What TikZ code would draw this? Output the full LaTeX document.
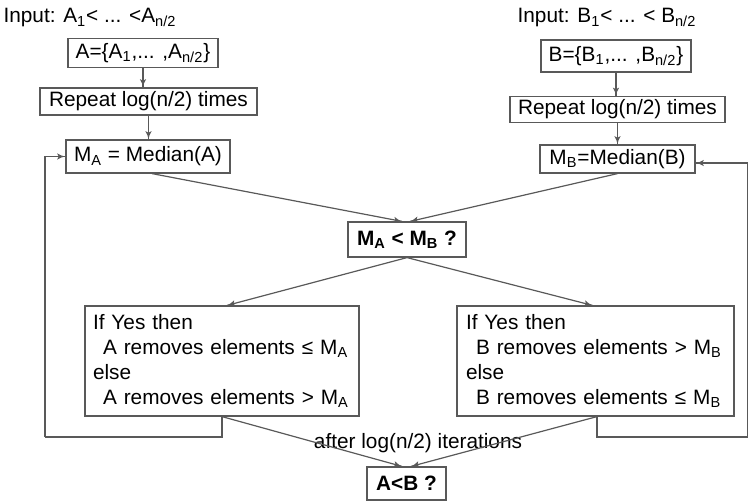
\documentclass[tikz,border=0pt]{standalone}
\usepackage{fontspec}
\setmainfont{Liberation Sans}
\usetikzlibrary{arrows}
\usetikzlibrary{decorations.markings}
\tikzset{tip/.style = {decoration={markings,
                                   mark=at position 1 with {\arrow[scale=0.9]{latex'}}},
                       postaction={decorate}}}
\tikzset{box/.style = {draw=lgray, line width=0.6pt, inner sep=0}}
\tikzset{wire/.style = {lgray, line width=0.6pt}}
\definecolor{lgray}{rgb}{0.35, 0.35, 0.35}
\newcommand{\lo}[1]{\textsubscript{#1}}

\begin{document}
\begin{tikzpicture}[x=0.5pt, y=-0.5pt, font=\fontsize{10.4}{12.5}\selectfont]
      \useasboundingbox (0, 0) rectangle (748, 502);

      % left column
      \node (inA) at (90, 18) {Input: A\lo{1}< ... <A\lo{n/2}};
      \node [box, minimum width=75pt, minimum height=14.5pt] (setA) at (143, 53)
        {A=\{A\lo{1},... ,A\lo{n/2}\}};
      \node [box, minimum width=108.5pt, minimum height=13.5pt] (repA) at (148.5, 101.5)
        {Repeat log(n/2) times};
      \node [box, minimum width=82pt, minimum height=16.5pt] (medA) at (148, 156.5)
        {M\lo{A} = Median(A)};

      % right column
      \node (inB) at (607, 18) {Input: B\lo{1}< ... < B\lo{n/2}};
      \node [box, minimum width=75pt, minimum height=16pt] (setB) at (616, 56)
        {B=\{B\lo{1},... ,B\lo{n/2}\}};
      \node [box, minimum width=107.5pt, minimum height=13pt] (repB) at (617.5, 109.5)
        {Repeat log(n/2) times};
      \node [box, minimum width=77.5pt, minimum height=14pt] (medB) at (617.5, 159)
        {M\lo{B}=Median(B)};

      % comparison and updates
      \node [box, minimum width=59pt, minimum height=17.5pt] (cmp) at (407, 239.5)
        {\textbf{M\lo{A} < M\lo{B} ?}};
      \node [box, text width=129pt, inner xsep=4pt, minimum height=55pt, align=left]
        (yesA) at (222, 361)
        {If Yes then\\
         \hspace*{5pt}A removes elements ≤ M\lo{A}\\
         else\\
         \hspace*{5pt}A removes elements > M\lo{A}};
      \node [box, text width=129.5pt, inner xsep=4.5pt, minimum height=55pt, align=left]
        (yesB) at (595.5, 361)
        {If Yes then\\
         \hspace*{5pt}B removes elements > M\lo{B}\\
         else\\
         \hspace*{5pt}B removes elements ≤ M\lo{B}};
      \node (iter) at (418, 443) {after log(n/2) iterations};
      \node [box, minimum width=39.5pt, minimum height=16.5pt] (res) at (406.5, 483.5)
        {\textbf{A<B ?}};

      \coordinate (loopA) at (45, 437);
      \coordinate (loopB) at (748, 437);

      \draw [wire, tip] (setA) -- (setA |- repA.north);
      \draw [wire, tip] (repA) -- (repA |- medA.north);
      \draw [wire, tip] (setB) -- (setB |- repB.north);
      \draw [wire, tip] (repB) -- (repB |- medB.north);

      \draw [wire, tip] ([xshift=2pt]medA.south) -- ([xshift=-2.5pt]cmp.north);
      \draw [wire, tip] (medB.south) -- ([xshift=1.5pt]cmp.north);
      \draw [wire, tip] (cmp.south) -- ([xshift=2.5pt]yesA.north);
      \draw [wire, tip] (cmp.south) -- ([xshift=-1.5pt]yesB.north);
      \draw [wire, tip] (yesA.south) -- ([xshift=-2.25pt]res.north);
      \draw [wire, tip] ([xshift=0.75pt]yesB.south) -- ([xshift=2.25pt]res.north);

      \draw [wire] (yesA.south) |- (loopA);
      \draw [wire, tip] (loopA) |- (medA.west);
      \draw [wire] ([xshift=0.75pt]yesB.south) |- (loopB);
      \draw [wire, tip] (loopB) |- ([yshift=-2pt]medB.east);
    \end{tikzpicture}
\end{document}
